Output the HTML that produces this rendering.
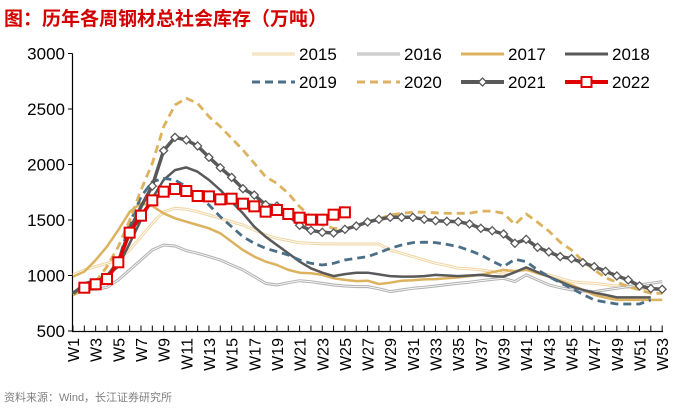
<!DOCTYPE html>
<html><head><meta charset="utf-8"><style>
body{margin:0;background:#fff;width:689px;height:408px;overflow:hidden;font-family:"Liberation Sans","Noto Sans CJK SC",sans-serif}
</style></head><body>
<svg id="chart" width="689" height="408" xmlns="http://www.w3.org/2000/svg" font-family="Liberation Sans, Noto Sans CJK SC, sans-serif">
<text x="4" y="25" font-size="19" font-weight="bold" fill="#d40000">图：历年各周钢材总社会库存（万吨）</text>
<text x="4" y="401" font-size="11" fill="#808080">资料来源：Wind，长江证券研究所</text>
<g id="axes"></g><g id="series"></g><g id="legend"></g>
</svg>
<script>
const weeks = Array.from({length:53},(_,i)=>'W'+(i+1));
const yTicks = [500,1000,1500,2000,2500,3000];
const s2015 = [1005,1050,1080,1110,1140,1230,1350,1470,1575,1605,1596,1575,1545,1515,1485,1455,1410,1365,1335,1315,1295,1290,1285,1285,1284,1284,1284,1284,1230,1200,1170,1140,1110,1090,1065,1060,1050,1035,1020,1035,1050,1030,1005,975,945,935,930,918,905,895,885,880,875];
const s2016 = [854,869,875,893,960,1050,1140,1230,1275,1266,1224,1200,1170,1140,1095,1050,990,929,914,935,953,944,929,914,905,900,900,880,855,870,885,895,905,918,930,940,953,965,975,945,1005,960,915,890,870,860,855,870,885,900,915,930,945];
const s2017 = [990,1035,1140,1260,1410,1575,1650,1626,1560,1515,1485,1455,1425,1380,1305,1230,1170,1125,1095,1050,1025,1020,1005,975,960,950,953,923,935,953,958,965,968,975,983,995,1005,1030,1050,1040,1055,1020,990,950,915,870,825,800,780,780,780,780,780];
const s2018 = [839,929,960,1000,1080,1290,1500,1695,1860,1950,1974,1935,1860,1770,1665,1560,1440,1350,1275,1200,1125,1065,1025,995,1013,1025,1025,1010,995,990,990,995,1005,1000,995,1000,1005,995,990,1030,1073,1030,990,945,900,870,845,825,803,803,803,803,null];
const s2019 = [839,884,929,990,1125,1470,1710,1845,1875,1860,1800,1725,1635,1530,1440,1350,1290,1245,1215,1185,1140,1110,1095,1110,1140,1155,1170,1205,1245,1275,1296,1300,1296,1280,1260,1225,1185,1130,1080,1146,1125,1050,990,935,885,830,780,760,743,743,743,780,null];
const s2020 = [824,875,944,1080,1260,1500,1770,2010,2340,2536,2596,2551,2431,2341,2236,2131,2011,1890,1830,1740,1620,1530,1455,1425,1416,1446,1480,1510,1545,1560,1570,1570,1565,1560,1560,1560,1580,1580,1560,1460,1554,1480,1400,1300,1230,1130,1050,980,940,900,870,840,840];
const s2021 = [839,914,944,990,1125,1410,1620,1806,2125,2245,2221,2167,2065,1971,1884,1782,1725,1638,1626,1545,1452,1407,1389,1383,1416,1446,1482,1506,1524,1524,1524,1506,1494,1488,1485,1464,1425,1404,1374,1290,1326,1254,1212,1170,1152,1116,1080,1038,996,960,906,882,876];
const s2022 = [null,890,921,968,1119,1386,1539,1677,1755,1779,1761,1716,1713,1686,1692,1647,1623,1575,1590,1554,1521,1503,1503,1548,1569];
const seriesNames = ['2015','2016','2017','2018','2019','2020','2021','2022'];

const NS='http://www.w3.org/2000/svg';
const X0=73, DX=11.33, Y500=331, K=0.111;
const xS=i=>X0+i*DX;
const yS=v=>Y500-(v-500)*K;
function mk(tag,attrs,parent){const e=document.createElementNS(NS,tag);for(const k in attrs)e.setAttribute(k,attrs[k]);parent.appendChild(e);return e;}
const axes=document.getElementById('axes'), ser=document.getElementById('series'), leg=document.getElementById('legend');

let yl=mk('line',{x1:72.5,y1:yS(3000),x2:72.5,y2:331.5,stroke:'#000','stroke-width':1.2},axes);


let xl=mk('line',{x1:72,y1:331.5,x2:xS(52)+1,y2:331.5,stroke:'#000','stroke-width':1.2},axes);


yTicks.forEach(v=>{
  mk('line',{x1:68,y1:yS(v),x2:72.5,y2:yS(v),stroke:'#000'},axes);
  const t=mk('text',{x:65,y:yS(v)+6,'text-anchor':'end','font-size':17,fill:'#000'},axes);
  t.textContent=v;
  
  
});
weeks.forEach((w,i)=>{
  mk('line',{x1:xS(i),y1:325.5,x2:xS(i),y2:331.5,stroke:'#000'},axes);
  if(i%2===0){
    const x=xS(i)+6,y=338;
    const t=mk('text',{x:x,y:y,'text-anchor':'end','font-size':16,fill:'#000',transform:`rotate(-90 ${x} ${y})`},axes);
    t.textContent=w;
    
    
  }
});

function path(arr){let d='',pen=false;arr.forEach((v,i)=>{if(v==null){pen=false;return;}d+=(pen?'L':'M')+xS(i).toFixed(1)+' '+yS(v).toFixed(1);pen=true;});return d;}
function dbl(arr,col,name){
  const g=mk('g',{},ser);
  
  
  mk('path',{d:path(arr),fill:'none',stroke:col,'stroke-width':3,'stroke-linejoin':'round'},g);
  mk('path',{d:path(arr),fill:'none',stroke:'#fff','stroke-width':0.8,'stroke-linejoin':'round'},g);
}
function line(arr,col,w,dash,name){
  const p=mk('path',{d:path(arr),fill:'none',stroke:col,'stroke-width':w,'stroke-linejoin':'round','stroke-dasharray':dash||'none'},ser);
  
  
}
dbl(s2015,'#f0d7a6','line-2015');
dbl(s2016,'#b4b4b4','line-2016');
line(s2017,'#ddb25f',2.5,null,'line-2017');
line(s2018,'#595959',2.5,null,'line-2018');
line(s2019,'#4a6f87',2.8,'8 5','line-2019');
line(s2020,'#ddb25f',2.8,'8 5','line-2020');
line(s2021,'#595959',3.5,null,'line-2021');
s2021.forEach((v,i)=>{if(i<7)return;const x=xS(i),y=yS(v);
  const m=mk('path',{d:`M${x} ${y-4}L${x+4} ${y}L${x} ${y+4}L${x-4} ${y}Z`,fill:'#fff',stroke:'#595959','stroke-width':1.3},ser);
  
  
});
line(s2022,'#e00000',3.5,null,'line-2022');
s2022.forEach((v,i)=>{if(v==null)return;const x=xS(i),y=yS(v);
  const m=mk('rect',{x:x-5,y:y-5,width:10,height:10,fill:'#fff',stroke:'#e00000','stroke-width':2},ser);
  
  
});

// legend
const lx=[252,357,461,565], ly=[54,82];
seriesNames.forEach((n,k)=>{
  const x=lx[k%4], y=ly[Math.floor(k/4)];
  const g=mk('g',{},leg);
  
  
  const st={'2015':['#f0d7a6',3,null],'2016':['#b4b4b4',3,null],'2017':['#ddb25f',3,null],'2018':['#595959',3,null],'2019':['#4a6f87',3,'8 5'],'2020':['#ddb25f',3,'8 5'],'2021':['#595959',4,null],'2022':['#e00000',4,null]}[n];
  mk('line',{x1:x,y1:y,x2:x+43,y2:y,stroke:st[0],'stroke-width':st[1],'stroke-dasharray':st[2]||'none'},g);
  if(n==='2015'||n==='2016')mk('line',{x1:x,y1:y,x2:x+43,y2:y,stroke:'#fff','stroke-width':0.8},g);
  if(n==='2021')mk('path',{d:`M${x+21.5} ${y-4}L${x+25.5} ${y}L${x+21.5} ${y+4}L${x+17.5} ${y}Z`,fill:'#fff',stroke:'#595959','stroke-width':1.3},g);
  if(n==='2022')mk('rect',{x:x+16.5,y:y-5,width:10,height:10,fill:'#fff',stroke:'#e00000','stroke-width':2},g);
  const t=mk('text',{x:x+47,y:y+6,'font-size':17,fill:'#000'},g);
  t.textContent=n;
});
</script>
</body></html>
